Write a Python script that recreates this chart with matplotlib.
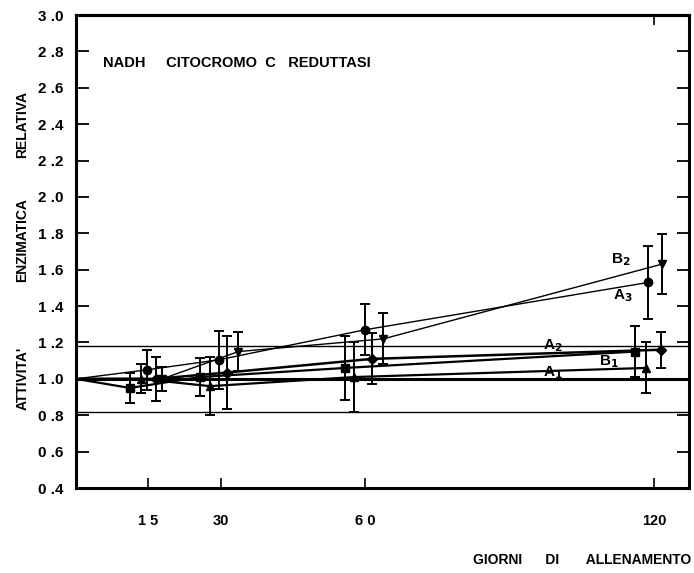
import matplotlib
matplotlib.use('Agg')
import matplotlib.pyplot as plt

plt.rcParams['font.family'] = ['Liberation Sans', 'DejaVu Sans']

# days of training (points are offset a little around 15/30/60/120 days)
A2_x = [11.2, 25.7, 55.8, 116.0]
A2_y = [0.95, 1.01, 1.06, 1.15]
A2_e = [0.08, 0.105, 0.175, 0.14]

A1_x = [13.4, 27.8, 57.7, 118.2]
A1_y = [1.00, 0.96, 1.01, 1.06]
A1_e = [0.08, 0.16, 0.19, 0.14]

A3_x = [14.8, 29.7, 60.0, 118.7]
A3_y = [1.05, 1.105, 1.27, 1.53]
A3_e = [0.11, 0.16, 0.14, 0.20]

B1_x = [16.5, 31.4, 61.5, 121.3]
B1_y = [1.00, 1.035, 1.11, 1.16]
B1_e = [0.12, 0.20, 0.14, 0.10]

B2_x = [17.9, 33.7, 63.8, 121.5]
B2_y = [1.00, 1.15, 1.22, 1.63]
B2_e = [0.065, 0.105, 0.14, 0.165]

ref_level = 1.0
band = [0.82, 1.18]

x_ticks = [15, 30, 60, 120]
x_labels = ['1 5', '30', '6 0', '120']
y_ticks = [0.4, 0.6, 0.8, 1.0, 1.2, 1.4, 1.6, 1.8, 2.0, 2.2, 2.4, 2.6, 2.8, 3.0]

series = [
    ('A2', A2_x, A2_y, A2_e, 's', 1.6),
    ('A1', A1_x, A1_y, A1_e, '^', 1.6),
    ('A3', A3_x, A3_y, A3_e, 'o', 1.0),
    ('B1', B1_x, B1_y, B1_e, 'D', 1.8),
    ('B2', B2_x, B2_y, B2_e, 'v', 1.0),
]

fig = plt.figure(figsize=(6.94, 5.73), dpi=100)
ax = fig.add_axes([0.1095, 0.1483, 0.8833, 0.8255])

ax.axhline(ref_level, color='black', lw=2.2)
for b in band:
    ax.axhline(b, color='black', lw=1.0)

for name, xs, ys, es, mk, lw in series:
    ax.plot([0] + xs, [ref_level] + ys, color='black', lw=lw)
    ms = 5 if mk == 'D' else 6
    ax.errorbar(xs, ys, yerr=es, fmt=mk, color='black', ms=ms,
                elinewidth=1.4, capsize=3.5, capthick=1.4)

# series labels
lab_kw = dict(fontsize=11, fontweight='bold', color='black')
ax.text(111.1, 1.637, r'B$_\mathbf{2}$', **lab_kw)
ax.text(111.4, 1.435, r'A$_\mathbf{3}$', **lab_kw)
ax.text(96.9, 1.18, r'A$_\mathbf{2}$', va='center', **lab_kw)
ax.text(108.5, 1.095, r'B$_\mathbf{1}$', va='center', **lab_kw)
ax.text(96.9, 1.035, r'A$_\mathbf{1}$', va='center', **lab_kw)

ax.text(5.6, 2.735, 'NADH     CITOCROMO  C   REDUTTASI', fontsize=10.5,
        fontweight='bold', va='center')

ax.set_xlim(0, 127.2)
ax.set_ylim(0.4, 3.0)
ax.set_xticks(x_ticks)
ax.set_xticklabels(x_labels)
ax.set_yticks(y_ticks)
ax.set_yticklabels([f'{v:.1f}'.replace('.', ' .') for v in y_ticks])

ax.tick_params(axis='y', direction='in', length=9, width=1.3, right=True,
               pad=9, labelsize=11)
ax.tick_params(axis='x', direction='in', length=7, width=1.2, pad=19,
               labelsize=10.5)
for lbl in ax.get_xticklabels() + ax.get_yticklabels():
    lbl.set_fontweight('bold')

for sp in ax.spines.values():
    sp.set_linewidth(2.2)

top = ax.secondary_xaxis('top')
top.set_xticks([120])
top.tick_params(direction='in', length=7, width=1.2, labeltop=False)
top.spines['top'].set_linewidth(2.2)

fig.text(0.996, 0.023, 'GIORNI      DI       ALLENAMENTO', ha='right',
         va='center', fontsize=10, fontweight='bold')

for txt, yy in [("ATTIVITA'", 0.34), ('ENZIMATICA', 0.581), ('RELATIVA', 0.782)]:
    fig.text(0.032, yy, txt, rotation=90, ha='center', va='center',
             fontsize=10, fontweight='bold')

fig.savefig('out.png', dpi=100)
